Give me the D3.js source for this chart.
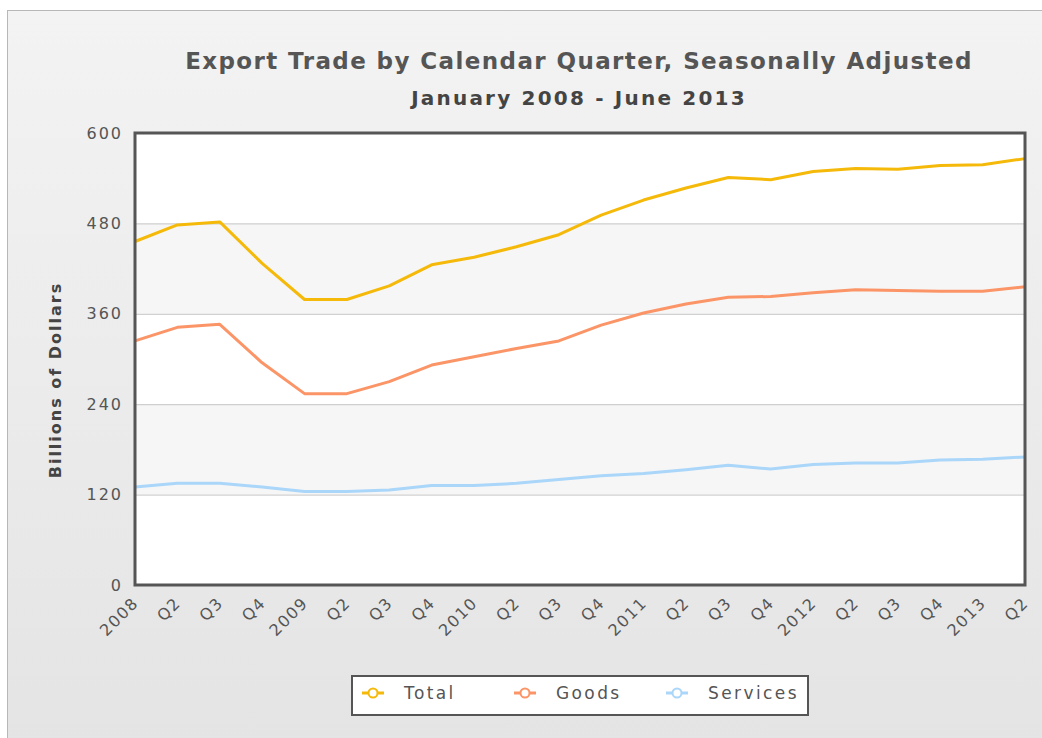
<!DOCTYPE html>
<html>
<head>
<meta charset="utf-8">
<script src="https://cdn.jsdelivr.net/npm/d3@7"></script>
<style>
  html, body { margin: 0; padding: 0; background: #fff; }
  svg { display: block; font-family: "DejaVu Sans", Verdana, sans-serif; }
</style>
</head>
<body>
<div id="chart"></div>
<script>
// quarters, January 2008 - June 2013
const quarters = ["2008", "Q2", "Q3", "Q4", "2009", "Q2", "Q3", "Q4", "2010", "Q2", "Q3", "Q4",
  "2011", "Q2", "Q3", "Q4", "2012", "Q2", "Q3", "Q4", "2013", "Q2"];

// billions of dollars
const total = [456, 478, 482, 427, 379, 379, 397, 425, 435, 449, 465, 491,
  511, 527, 541, 538, 549, 553, 552, 557, 558, 566];
const goods = [324, 342, 346, 295, 254, 254, 270, 292, 303, 314, 324, 345,
  361, 373, 382, 383, 388, 392, 391, 390, 390, 396];
const services = [130, 135, 135, 130, 124, 124, 126, 132, 132, 135, 140, 145,
  148, 153, 159, 154, 160, 162, 162, 166, 167, 170];

const yTicks = [0, 120, 240, 360, 480, 600];

const series = [
  { name: "Total", values: total, color: "#f5b90a" },
  { name: "Goods", values: goods, color: "#fb9567" },
  { name: "Services", values: services, color: "#aad6fa" }
];

const width = 1042, height = 738;
const margin = { top: 133, right: 17, bottom: 153, left: 135 };
const innerW = width - margin.left - margin.right;
const innerH = height - margin.top - margin.bottom;

const svg = d3.select("#chart").append("svg")
  .attr("width", width)
  .attr("height", height);

// background panel
const grad = svg.append("defs").append("linearGradient")
  .attr("id", "bg").attr("x1", 0).attr("y1", 0).attr("x2", 0).attr("y2", 1);
grad.append("stop").attr("offset", "0%").attr("stop-color", "#f3f3f3");
grad.append("stop").attr("offset", "100%").attr("stop-color", "#e4e4e4");

svg.append("rect")
  .attr("x", 7.5).attr("y", 10.5)
  .attr("width", width).attr("height", height)
  .attr("fill", "url(#bg)")
  .attr("stroke", "#b8b8b8");

// titles
svg.append("text")
  .attr("x", 579).attr("y", 69)
  .attr("text-anchor", "middle")
  .attr("font-size", 23).attr("font-weight", "bold")
  .attr("letter-spacing", 1.4)
  .attr("fill", "#555")
  .text("Export Trade by Calendar Quarter, Seasonally Adjusted");

svg.append("text")
  .attr("x", 579).attr("y", 105)
  .attr("text-anchor", "middle")
  .attr("font-size", 20).attr("font-weight", "bold")
  .attr("letter-spacing", 2.2)
  .attr("fill", "#444")
  .text("January 2008 - June 2013");

const g = svg.append("g")
  .attr("transform", `translate(${margin.left},${margin.top})`);

const x = d3.scalePoint()
  .domain(d3.range(quarters.length))
  .range([0, innerW]);

const y = d3.scaleLinear()
  .domain([0, 600])
  .range([innerH, 0]);

// plot background with alternating bands
g.append("rect")
  .attr("width", innerW).attr("height", innerH)
  .attr("fill", "#fff");

g.selectAll(".band")
  .data(d3.pairs(yTicks).filter((d, i) => i % 2 === 1))
  .enter().append("rect")
  .attr("class", "band")
  .attr("x", 0).attr("width", innerW)
  .attr("y", d => y(d[1]))
  .attr("height", d => y(d[0]) - y(d[1]))
  .attr("fill", "#f6f6f6");

// grid
g.append("g")
  .call(d3.axisLeft(y).tickValues(yTicks.slice(1, -1)).tickSize(-innerW).tickFormat(""))
  .call(s => s.select(".domain").remove())
  .call(s => s.selectAll("line").attr("stroke", "#c6c6c6"));

// y axis labels
g.append("g")
  .call(d3.axisLeft(y).tickValues(yTicks).tickSize(0).tickPadding(12))
  .call(s => s.select(".domain").remove())
  .call(s => s.selectAll("text")
    .attr("font-size", 16).attr("fill", "#555")
    .attr("letter-spacing", 2)
    .attr("font-family", "DejaVu Sans, sans-serif"));

// x axis labels
g.append("g")
  .attr("transform", `translate(0,${innerH})`)
  .call(d3.axisBottom(x).tickSize(0).tickFormat(i => quarters[i]))
  .call(s => s.select(".domain").remove())
  .call(s => s.selectAll("text")
    .attr("font-size", 16).attr("fill", "#555")
    .attr("letter-spacing", 1.5)
    .attr("font-family", "DejaVu Sans, sans-serif")
    .attr("text-anchor", "end")
    .attr("dy", null)
    .attr("y", 0)
    .attr("transform", "translate(4,19) rotate(-45)"));

// lines
const line = d3.line()
  .x((d, i) => x(i))
  .y(d => y(d));

g.selectAll(".series")
  .data(series)
  .enter().append("path")
  .attr("class", "series")
  .attr("fill", "none")
  .attr("stroke", d => d.color)
  .attr("stroke-width", 3)
  .attr("stroke-linejoin", "round")
  .attr("d", d => line(d.values));

// plot frame
g.append("rect")
  .attr("width", innerW).attr("height", innerH)
  .attr("fill", "none")
  .attr("stroke", "#555")
  .attr("stroke-width", 3);

// y axis title
svg.append("text")
  .attr("transform", "translate(61,380) rotate(-90)")
  .attr("text-anchor", "middle")
  .attr("font-size", 16).attr("font-weight", "bold")
  .attr("letter-spacing", 2)
  .attr("fill", "#444")
  .text("Billions of Dollars");

// legend
const legend = svg.append("g").attr("transform", "translate(352,676)");
legend.append("rect")
  .attr("width", 456).attr("height", 39)
  .attr("fill", "#fff")
  .attr("stroke", "#555").attr("stroke-width", 2);

const legendX = [10, 162, 314];
const item = legend.selectAll(".item")
  .data(series)
  .enter().append("g")
  .attr("class", "item")
  .attr("transform", (d, i) => `translate(${legendX[i]},17)`);

item.append("line")
  .attr("x1", 0).attr("x2", 22)
  .attr("stroke", d => d.color).attr("stroke-width", 3);
item.append("circle")
  .attr("cx", 11).attr("r", 4.5)
  .attr("fill", "#fff")
  .attr("stroke", d => d.color).attr("stroke-width", 2);
item.append("text")
  .attr("x", 42).attr("y", 6)
  .attr("font-size", 17).attr("fill", "#555")
  .attr("letter-spacing", 2.4)
  .text(d => d.name);
</script>
</body>
</html>
